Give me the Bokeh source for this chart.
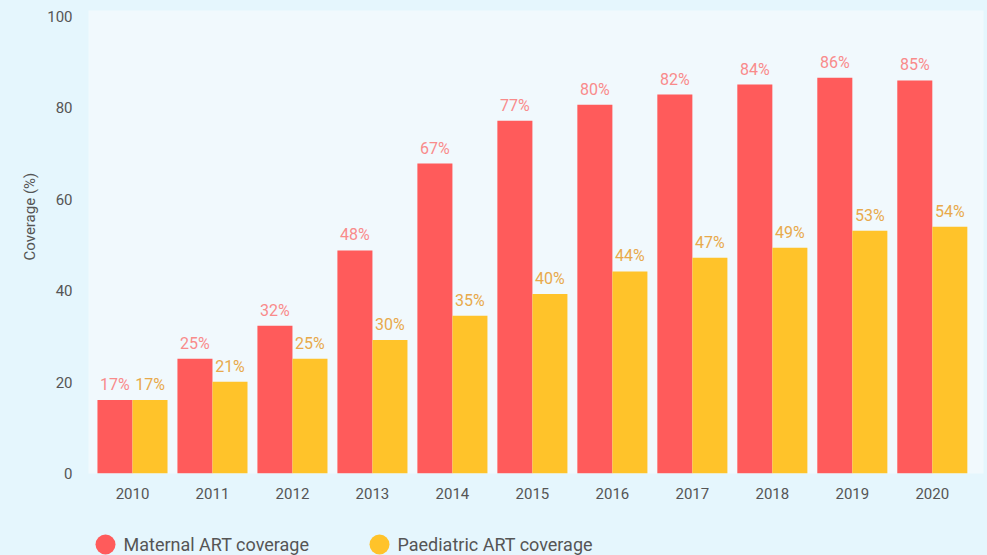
from bokeh.plotting import figure
from bokeh.layouts import column
from bokeh.models import Range1d, FixedTicker, Title, ColumnDataSource
from bokeh.core.properties import value
from bokeh.embed import file_html
from bokeh.resources import INLINE

# ---- data ----
years = ["2010", "2011", "2012", "2013", "2014", "2015", "2016", "2017", "2018", "2019", "2020"]
maternal = [16.1, 25.1, 32.3, 48.8, 67.8, 77.2, 80.7, 82.9, 85.1, 86.6, 86.0]
paediatric = [16.1, 20.1, 25.1, 29.2, 34.5, 39.3, 44.2, 47.2, 49.4, 53.1, 54.0]
maternal_labels = ["17%", "25%", "32%", "48%", "67%", "77%", "80%", "82%", "84%", "86%", "85%"]
paediatric_labels = ["17%", "21%", "25%", "30%", "35%", "40%", "44%", "47%", "49%", "53%", "54%"]
series_names = ["Maternal ART coverage", "Paediatric ART coverage"]
y_ticks = [0, 20, 40, 60, 80, 100]
y_title = "Coverage (%)"

# ---- style ----
OUTER = "#E5F6FD"
INNER = "#F1F9FD"
RED = "#FF5B5B"
YEL = "#FFC32A"
RED_TXT = "#F98B8B"
YEL_TXT = "#E8A94B"
GREY = "#555555"
FONT = "Roboto"
W = 987
BL, BR = 88, 4
BW = 0.438
X0, X1 = -0.55, 10.64

idx = list(range(len(years)))
xm = [i - BW / 2 for i in idx]
xp = [i + BW / 2 for i in idx]

src = ColumnDataSource(dict(xm=xm, xp=xp, maternal=maternal, paediatric=paediatric,
                            ml=maternal_labels, pl=paediatric_labels))

p = figure(width=W, height=518, output_backend="svg", toolbar_location=None,
           x_range=Range1d(X0, X1), y_range=Range1d(0, 101.3),
           min_border_left=BL, min_border_right=BR, min_border_top=10, min_border_bottom=45)
p.background_fill_color = INNER
p.border_fill_color = OUTER
p.outline_line_color = None
p.grid.visible = False

p.vbar(x="xm", top="maternal", width=BW, bottom=0, source=src, fill_color=RED, line_color=None)
p.vbar(x="xp", top="paediatric", width=BW, bottom=0, source=src, fill_color=YEL, line_color=None)

p.text(x="xm", y="maternal", text="ml", source=src, text_align="center", text_baseline="bottom",
       y_offset=-6, text_color=RED_TXT, text_font=value(FONT), text_font_size="16px")
p.text(x="xp", y="paediatric", text="pl", source=src, text_align="center", text_baseline="bottom",
       y_offset=-6, text_color=YEL_TXT, text_font=value(FONT), text_font_size="16px")

p.xaxis.ticker = FixedTicker(ticks=idx)
p.xaxis.major_label_overrides = {i: y for i, y in zip(idx, years)}
p.yaxis.ticker = FixedTicker(ticks=y_ticks)
for ax in (p.xaxis[0], p.yaxis[0]):
    ax.axis_line_color = None
    ax.major_tick_line_color = None
    ax.minor_tick_line_color = None
    ax.major_tick_out = 0
    ax.major_tick_in = 0
    ax.major_label_text_font = FONT
    ax.major_label_text_font_size = "15px"
    ax.major_label_text_color = GREY
p.xaxis.major_label_standoff = 14
p.yaxis.major_label_standoff = 16

# y-axis title as a left-side title, shifted along the side
p.add_layout(Title(text=y_title, align="left", offset=213, vertical_align="bottom",
                   text_font=FONT, text_font_size="15px", text_font_style="normal",
                   text_color=GREY, standoff=12), "left")

# ---- legend strip ----
LH = 37
lg = figure(width=W, height=LH, output_backend="svg", toolbar_location=None,
            x_range=Range1d(BL, W - BR), y_range=Range1d(0, LH),
            min_border_left=BL, min_border_right=BR, min_border_top=0, min_border_bottom=0)
lg.axis.visible = False
lg.grid.visible = False
lg.background_fill_color = OUTER
lg.border_fill_color = OUTER
lg.outline_line_color = None
lsrc = ColumnDataSource(dict(cx=[105, 379], cy=[11, 11], tx=[123, 397], names=series_names,
                             colors=[RED, YEL]))
lg.scatter(x="cx", y="cy", size=20, marker="circle", fill_color="colors", line_color=None, source=lsrc)
lg.text(x="tx", y="cy", text="names", source=lsrc, text_baseline="middle", text_align="left",
        text_color=GREY, text_font=value(FONT), text_font_size="18px")

layout = column(p, lg, spacing=0, styles={"background-color": OUTER})
open("out.html", "w").write(file_html(layout, INLINE))
